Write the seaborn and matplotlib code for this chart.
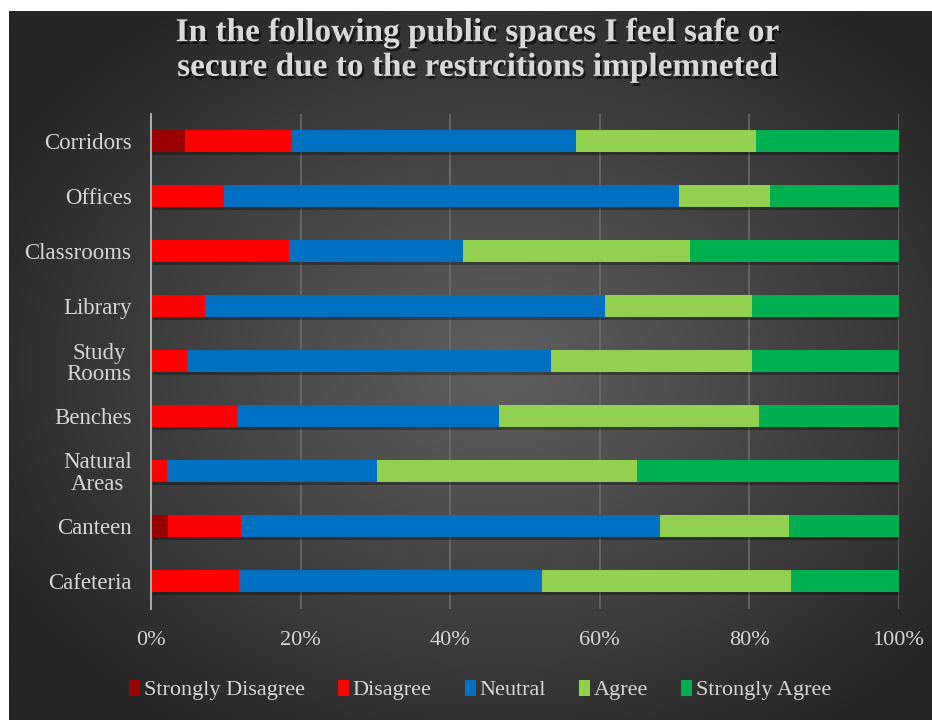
import numpy as np
import pandas as pd
import matplotlib
matplotlib.use("Agg")
import matplotlib.pyplot as plt
import matplotlib.patheffects as pe
from matplotlib.patches import Patch
import seaborn as sns

# Survey responses (% of respondents) per public space
spaces = ["Corridors", "Offices", "Classrooms", "Library", "Study\nRooms",
          "Benches", "Natural\nAreas", "Canteen", "Cafeteria"]
strongly_disagree = [4.6, 0.0, 0.0, 0.0, 0.0, 0.0, 0.0, 2.3, 0.0]
disagree          = [14.3, 9.7, 18.5, 7.2, 4.8, 11.5, 2.2, 9.8, 11.8]
neutral           = [38.0, 60.9, 23.2, 53.6, 48.7, 35.0, 28.0, 56.0, 40.5]
agree             = [24.0, 12.2, 30.4, 19.6, 26.9, 34.8, 34.8, 17.2, 33.3]
strongly_agree    = [19.1, 17.2, 27.9, 19.6, 19.6, 18.7, 35.0, 14.7, 14.4]

levels = ["Strongly Disagree", "Disagree", "Neutral", "Agree", "Strongly Agree"]
colors = ["#990000", "#FF0000", "#0070C0", "#92D050", "#00B050"]
x_ticks = [0, 20, 40, 60, 80, 100]
x_labels = ["0%", "20%", "40%", "60%", "80%", "100%"]

title = "In the following public spaces I feel safe or\nsecure due to the restrcitions implemneted"

df = pd.DataFrame({
    "space": spaces,
    levels[0]: strongly_disagree,
    levels[1]: disagree,
    levels[2]: neutral,
    levels[3]: agree,
    levels[4]: strongly_agree,
})
cum = df[levels].cumsum(axis=1)
cum["space"] = df["space"]

W, H = 932, 720
fig = plt.figure(figsize=(W / 100, H / 100), dpi=100)
fig.patch.set_facecolor("white")

# Dark radial-gradient backdrop (leaves a thin white margin top and left)
bg = fig.add_axes([9 / W, 0, 1 - 9 / W, 1 - 11 / H])
bg.set_axis_off()
ny, nx = 300, 400
yy, xx = np.mgrid[0:ny, 0:nx]
cx, cy = nx * 0.53, ny * 0.50
d = np.sqrt(((xx - cx) / (nx * 0.62)) ** 2 + ((yy - cy) / (ny * 0.62)) ** 2)
d = np.clip(d, 0, 1)
lo, hi = 0x25 / 255, 0x5e / 255
val = hi - (hi - lo) * d ** 1.1
img = np.dstack([val, val, val])
bg.imshow(img, aspect="auto", extent=[0, 1, 0, 1], interpolation="bicubic")
bg.set_xlim(0, 1)
bg.set_ylim(0, 1)

ax = fig.add_axes([151 / W, 1 - 608.5 / H, 747.5 / W, 495 / H])
ax.patch.set_alpha(0)

# Stacked bars: draw cumulative totals from the widest down
shadow = [pe.SimplePatchShadow(offset=(1.5, -2.2), shadow_rgbFace="black", alpha=0.3),
          pe.Normal()]
for i in range(len(levels) - 1, -1, -1):
    n_before = len(ax.patches)
    sns.barplot(data=cum, x=levels[i], y="space", orient="h", color=colors[i],
                saturation=1, width=0.4, ax=ax, linewidth=0, errorbar=None)
    if i == len(levels) - 1:
        for p in ax.patches[n_before:]:
            p.set_path_effects(shadow)

ax.set_xlim(0, 100)
ax.set_ylim(len(spaces) - 0.5, -0.5)
ax.set_xlabel("")
ax.set_ylabel("")
ax.set_xticks(x_ticks)
ax.set_xticklabels(x_labels)
ax.set_axisbelow(True)
ax.xaxis.grid(True, color="#6f6f6f", linewidth=1.1)
ax.yaxis.grid(False)
for s in ["top", "right", "bottom"]:
    ax.spines[s].set_visible(False)
ax.spines["left"].set_color("#b5b5b5")
ax.spines["left"].set_linewidth(1.3)
ax.tick_params(axis="both", length=0)
ax.tick_params(axis="x", pad=16, labelcolor="#d6d6d6", labelsize=16)
ax.tick_params(axis="y", pad=14, labelcolor="#d6d6d6", labelsize=16.5)
for lab in ax.get_xticklabels() + ax.get_yticklabels():
    lab.set_family("Liberation Serif")
for lab in ax.get_yticklabels():
    lab.set_multialignment("center")
    lab.set_linespacing(1.05)

fig.text(478 / W, 1 - 50 / H, title, ha="center", va="center",
         family="Liberation Serif", fontweight="bold", fontsize=24,
         color="#d9d9d9", linespacing=1.15,
         path_effects=[pe.withSimplePatchShadow(offset=(1.5, -2),
                                                shadow_rgbFace="black",
                                                alpha=0.6)])

handles = [Patch(facecolor=c, edgecolor="none") for c in colors]
leg = fig.legend(handles, levels, loc="center", bbox_to_anchor=(480 / W, 1 - 690 / H),
                 ncol=5, frameon=False, handlelength=0.5, handleheight=0.75,
                 handletextpad=0.15, columnspacing=1.5,
                 prop={"family": "Liberation Serif", "size": 16})
for t in leg.get_texts():
    t.set_color("#d6d6d6")

fig.savefig("out.png", dpi=100, facecolor=fig.get_facecolor())
